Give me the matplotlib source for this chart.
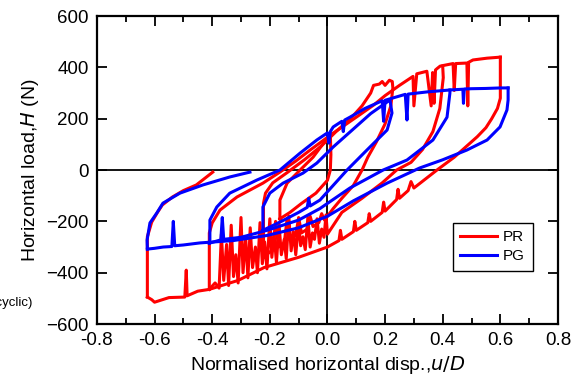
import matplotlib
matplotlib.use("Agg")
import matplotlib.pyplot as plt
from matplotlib.ticker import MultipleLocator

plt.rcParams['font.family'] = ['Liberation Sans', 'DejaVu Sans']

# ---- PR test (red) ----
# outer cycle, first part of the reloading branch from the left extreme
pr_load_a_x = [-0.625, -0.625, -0.61, -0.59, -0.573, -0.538, -0.5, -0.455, -0.398]
pr_load_a_y = [-495, -260, -203, -165, -136, -105, -80, -58, -8]

# reloading branch from -0.4 up to the peak at +0.6
pr_load_b_x = [-0.41, -0.41, -0.40, -0.373, -0.314, -0.224, -0.165, -0.11, -0.06, 0.02,
               0.1, 0.16, 0.2, 0.25, 0.297, 0.30, 0.31, 0.345, 0.36, 0.365, 0.37, 0.375,
               0.38, 0.391, 0.436, 0.44, 0.445, 0.484, 0.487, 0.49, 0.505, 0.554, 0.6]
pr_load_b_y = [-465, -245, -206, -156, -105, -51, -8, 35, 78, 144,
               206, 253, 290, 330, 365, 250, 375, 385, 250, 380, 260, 390,
               395, 405, 415, 310, 415, 417, 250, 420, 429, 436, 440]

# unloading from +0.6 back to -0.6
pr_unload_a_x = [0.6, 0.6, 0.59, 0.57, 0.55, 0.52, 0.48, 0.44, 0.38, 0.34, 0.30, 0.29, 0.28,
                 0.25, 0.245, 0.24, 0.2, 0.195, 0.19, 0.15, 0.145, 0.14, 0.1, 0.095, 0.09,
                 0.05, 0.045, 0.04, 0.0, -0.05, -0.1, -0.16, -0.22, -0.31, -0.41, -0.45,
                 -0.487, -0.49, -0.495, -0.55, -0.6, -0.61, -0.625]
pr_unload_a_y = [440, 280, 240, 200, 165, 130, 90, 50, 0, -35, -70, -45, -80,
                 -110, -75, -115, -160, -125, -165, -200, -170, -205, -235, -200, -240,
                 -270, -235, -275, -300, -320, -340, -360, -380, -430, -465, -472,
                 -490, -390, -495, -497, -515, -505, -495]

# unloading from +0.4 back to -0.4 (frequent load drops)
pr_unload_b_x = [0.4, 0.402, 0.39, 0.366, 0.33, 0.29, 0.24, 0.19, 0.12, 0.05, 0.0,
                 -0.005, -0.012, -0.02, -0.028, -0.036, -0.045, -0.052, -0.06, -0.068,
                 -0.077, -0.085, -0.093, -0.1, -0.11, -0.118, -0.126, -0.134, -0.143,
                 -0.15, -0.16, -0.168, -0.177, -0.185, -0.193, -0.2, -0.21, -0.218,
                 -0.226, -0.234, -0.243, -0.25, -0.26, -0.268, -0.276, -0.284, -0.293,
                 -0.3, -0.31, -0.318, -0.326, -0.334, -0.343, -0.35, -0.36, -0.368,
                 -0.376, -0.39, -0.41]
pr_unload_b_y = [405, 360, 240, 150, 80, 30, 0, -50, -110, -165, -250,
                 -175, -262, -230, -285, -190, -270, -245, -300, -185,
                 -310, -260, -295, -205, -330, -240, -315, -180, -345,
                 -270, -330, -210, -360, -250, -340, -190, -385, -280,
                 -365, -205, -400, -300, -380, -225, -420, -260, -400,
                 -185, -440, -330, -415, -215, -450, -290, -430, -250,
                 -460, -440, -465]

# +-0.2 cycle
pr_inner_x = [-0.222, -0.222, -0.215, -0.19, -0.14, -0.08, -0.02, 0.03, 0.08, 0.12, 0.15,
              0.16, 0.18, 0.19, 0.2, 0.215, 0.225, 0.227, 0.22, 0.2, 0.17, 0.14, 0.12,
              0.09, 0.05, 0.02, -0.01, -0.02, -0.03, -0.05, -0.06, -0.07, -0.09, -0.1,
              -0.11, -0.13, -0.14, -0.15, -0.17, -0.18, -0.19, -0.222]
pr_inner_y = [-340, -130, -90, -50, -10, 40, 95, 150, 200, 250, 300,
              330, 335, 345, 330, 350, 345, 320, 250, 180, 110, 50, 0,
              -60, -110, -150, -195, -170, -205, -220, -180, -230, -245, -185,
              -255, -270, -190, -285, -300, -200, -310, -340]

# small early cycle around the origin
pr_small_x = [-0.165, -0.165, -0.14, -0.095, -0.05, -0.01, 0.01, 0.012, 0.01, 0.0,
              -0.04, -0.09, -0.13, -0.165]
pr_small_y = [-190, -117, -51, 0, 50, 110, 144, 60, 0, -40,
              -90, -130, -165, -190]

# ---- PG test (blue) ----
pg_load_a_x = [-0.625, -0.626, -0.616, -0.592, -0.571, -0.512, -0.432, -0.339, -0.269]
pg_load_a_y = [-308, -273, -206, -167, -129, -90, -58, -27, -8]

pg_load_b_x = [-0.41, -0.408, -0.408, -0.384, -0.339, -0.245, -0.165, -0.095, -0.037,
               0.0, 0.005, 0.01, 0.02, 0.05, 0.055, 0.06, 0.078, 0.13, 0.19, 0.195,
               0.2, 0.27, 0.276, 0.28, 0.35, 0.425, 0.47, 0.472, 0.475, 0.5, 0.55,
               0.6, 0.627]
pg_load_b_y = [-285, -273, -195, -144, -90, -39, 0, 66, 117,
               145, 105, 150, 168, 190, 150, 195, 206, 240, 270, 190,
               272, 295, 195, 296, 305, 312, 315, 260, 316, 317, 318,
               320, 320]

pg_unload_a_x = [0.627, 0.627, 0.623, 0.599, 0.554, 0.484, 0.40, 0.32, 0.207, 0.09, 0.0,
                 -0.1, -0.21, -0.328, -0.443, -0.5, -0.53, -0.535, -0.54, -0.57, -0.6,
                 -0.625]
pg_unload_a_y = [320, 273, 234, 168, 117, 78, 40, 8, -51, -120, -180,
                 -225, -255, -275, -284, -292, -295, -200, -298, -300, -305,
                 -308]

pg_unload_b_x = [0.425, 0.425, 0.415, 0.366, 0.276, 0.193, 0.078, -0.026, -0.1, -0.21,
                 -0.3, -0.36, -0.365, -0.37, -0.41]
pg_unload_b_y = [312, 300, 206, 117, 39, 0, -70, -150, -195, -235,
                 -262, -270, -185, -272, -285]

pg_inner_x = [-0.224, -0.224, -0.224, -0.2, -0.154, -0.085, -0.037, 0.02, 0.08, 0.15,
              0.217, 0.224, 0.207, 0.137, 0.068, -0.026, -0.06, -0.065, -0.07, -0.1,
              -0.16, -0.224]
pg_inner_y = [-235, -222, -144, -90, -51, -12, 27, 90, 150, 220,
              273, 222, 156, 78, 0, -117, -140, -110, -145, -165,
              -200, -235]

pr_paths = [(pr_load_a_x, pr_load_a_y), (pr_load_b_x, pr_load_b_y),
            (pr_unload_a_x, pr_unload_a_y), (pr_unload_b_x, pr_unload_b_y),
            (pr_inner_x, pr_inner_y), (pr_small_x, pr_small_y)]
pg_paths = [(pg_load_a_x, pg_load_a_y), (pg_load_b_x, pg_load_b_y),
            (pg_unload_a_x, pg_unload_a_y), (pg_unload_b_x, pg_unload_b_y),
            (pg_inner_x, pg_inner_y)]

fig = plt.figure(figsize=(5.77, 3.83), dpi=100)
ax = fig.add_axes([0.168, 0.154, 0.799, 0.804])

ax.axhline(0, color='black', lw=1.3, zorder=1)
ax.axvline(0, color='black', lw=1.3, zorder=1)

for i, (x, y) in enumerate(pr_paths):
    ax.plot(x, y, color='#ff0000', lw=2.2, solid_joinstyle='round', zorder=2,
            label='PR' if i == 0 else None)
for i, (x, y) in enumerate(pg_paths):
    ax.plot(x, y, color='#0000ff', lw=2.2, solid_joinstyle='round', zorder=3,
            label='PG' if i == 0 else None)

ax.set_xlim(-0.8, 0.8)
ax.set_ylim(-600, 600)
ax.xaxis.set_major_locator(MultipleLocator(0.2))
ax.xaxis.set_minor_locator(MultipleLocator(0.1))
ax.yaxis.set_major_locator(MultipleLocator(200))
ax.xaxis.set_major_formatter(plt.FuncFormatter(lambda v, p: f"{v:.1f}"))
ax.tick_params(which='both', direction='in', top=True, right=True, labelsize=13.5,
               width=1.3, pad=6)
ax.tick_params(which='major', length=7)
ax.tick_params(which='minor', length=4)
for s in ax.spines.values():
    s.set_linewidth(1.6)

ax.set_xlabel('Normalised horizontal disp.,$\\it{u/D}$', fontsize=14, labelpad=3)
ax.set_ylabel('Horizontal load,$\\it{H}$ (N)', fontsize=14, labelpad=4)

leg = ax.legend(loc='upper left', bbox_to_anchor=(0.755, 0.354), fontsize=11,
                handlelength=2.4, fancybox=False, edgecolor='black', framealpha=1,
                borderpad=0.5, labelspacing=0.3, handletextpad=0.4)
leg.get_frame().set_linewidth(1.0)

# side note, partly outside the left edge of the figure
fig.text(33 / 577, 1 - 303 / 383, '(cyclic)', fontsize=9.5, ha='right', va='center')

fig.savefig('out.png', dpi=100)
